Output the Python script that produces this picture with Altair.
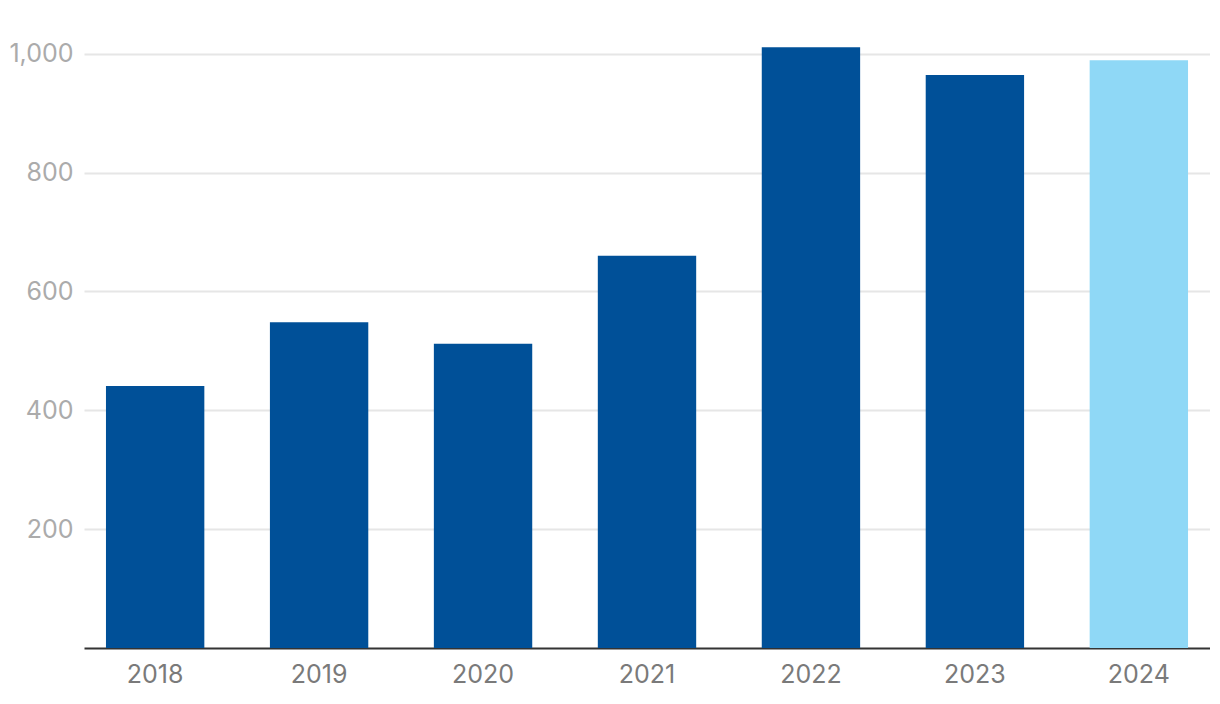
import altair as alt
import pandas as pd

years = ["2018", "2019", "2020", "2021", "2022", "2023", "2024"]
values = [441, 548, 512, 660, 1011, 964, 989]
kinds = ["actual", "actual", "actual", "actual", "actual", "actual", "forecast"]

df = pd.DataFrame({"year": years, "value": values, "kind": kinds})

chart = alt.Chart(df).mark_bar().encode(
    x=alt.X("year:N", title=None, sort=years,
            scale=alt.Scale(paddingInner=0.4, paddingOuter=0.134),
            axis=alt.Axis(labelAngle=0, labelFontSize=25, labelColor="#7a7a7a",
                          labelFont="Inter", labelPadding=14, ticks=False,
                          domainColor="#333333", domainWidth=2, grid=False)),
    y=alt.Y("value:Q", title=None,
            scale=alt.Scale(domain=[0, 1050], nice=False),
            axis=alt.Axis(values=[200, 400, 600, 800, 1000], format=",d",
                          labelFontSize=25, labelColor="#ababab", labelFont="Inter",
                          labelPadding=11, ticks=False, domain=False,
                          gridColor="#e6e6e6", gridWidth=2)),
    color=alt.Color("kind:N", legend=None,
                    scale=alt.Scale(domain=["actual", "forecast"],
                                    range=["#005098", "#8fd8f6"])),
).properties(
    width=1126, height=624,
    autosize=alt.AutoSizeParams(type="none"),
    padding={"left": 76, "top": 16, "right": 0, "bottom": 56},
).configure_view(stroke=None)

chart.save("out.html", embed_options={"renderer": "svg", "actions": False})
